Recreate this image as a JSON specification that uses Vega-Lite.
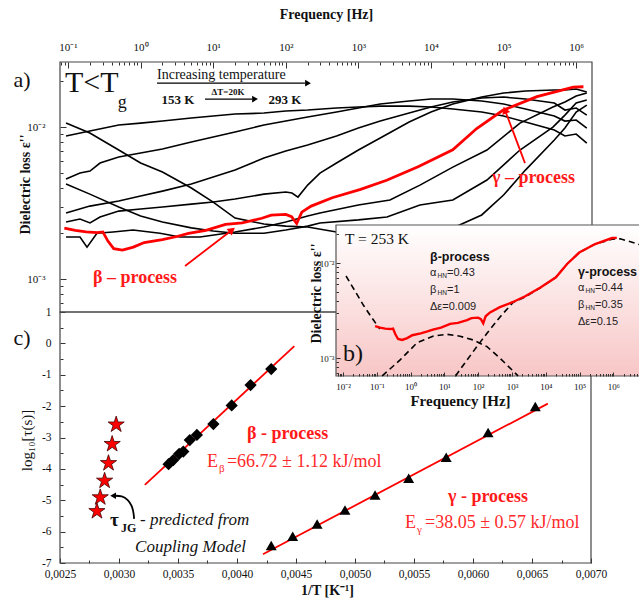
{
  "$schema": "https://vega.github.io/schema/vega-lite/v6.json",
  "width": 639,
  "height": 599,
  "autosize": {"type": "none"},
  "padding": 0,
  "background": "white",
  "config": {
    "view": {"stroke": null},
    "axis": {"grid": false, "domain": false, "labelFont": "Liberation Serif", "titleFont": "Liberation Serif", "labelColor": "#111", "titleColor": "#111", "tickColor": "#333", "labelFlush": false, "labelOverlap": false},
    "text": {"font": "Liberation Serif"}
  },
  "datasets": {
    "red253": [
      {"f": 0.0891, "v": 0.002163}, {"f": 0.1259, "v": 0.002089}, {"f": 0.1778, "v": 0.002042}, {"f": 0.2512, "v": 0.002018},
      {"f": 0.302, "v": 0.002042}, {"f": 0.3548, "v": 0.001778}, {"f": 0.4266, "v": 0.001585}, {"f": 0.5623, "v": 0.001549},
      {"f": 0.7943, "v": 0.001622}, {"f": 1.122, "v": 0.001738}, {"f": 1.995, "v": 0.00182}, {"f": 3.162, "v": 0.001905},
      {"f": 4.571, "v": 0.001995}, {"f": 7.943, "v": 0.002089}, {"f": 14.79, "v": 0.002291}, {"f": 25.12, "v": 0.002344},
      {"f": 46.77, "v": 0.002512}, {"f": 63.1, "v": 0.00263}, {"f": 100, "v": 0.002661}, {"f": 120.2, "v": 0.00257},
      {"f": 141.3, "v": 0.002317}, {"f": 166, "v": 0.002754}, {"f": 223.9, "v": 0.00302}, {"f": 436.5, "v": 0.003428},
      {"f": 1072, "v": 0.00389}, {"f": 2455, "v": 0.004467}, {"f": 6761, "v": 0.005495}, {"f": 19950, "v": 0.007079},
      {"f": 42660, "v": 0.009772}, {"f": 97720, "v": 0.01288}, {"f": 288400, "v": 0.01585}, {"f": 912000, "v": 0.01832},
      {"f": 1259000, "v": 0.01841}
    ]
  },
  "layer": [
    {
      "layer": [
        {
          "data": {"values": [{"f0": 0.0776, "f1": 1652000, "v0": 0.000607, "v1": 0.02679}]},
          "mark": {"type": "rect", "filled": false, "stroke": "#444", "strokeWidth": 1.2},
          "encoding": {
            "x": {"field": "f0", "type": "quantitative", "scale": {"type": "log", "domain": [0.0776, 1652000], "range": [60, 592], "nice": false},
              "axis": {"orient": "top", "offset": -62, "values": [0.1, 1, 10, 100, 1000, 10000, 100000, 1000000], "tickSize": -6, "labelPadding": 16, "labelFontSize": 11,
                "labelExpr": "'10' + ['⁻³','⁻²','⁻¹','⁰','¹','²','³','⁴','⁵','⁶','⁷'][round(log(datum.value)/LN10)+3]",
                "title": "Frequency [Hz]", "titleFontSize": 14, "titleFontWeight": "bold", "titleX": 326, "titleY": -48, "titleAlign": "center", "titleBaseline": "middle", "titleAngle": 0}},
            "x2": {"field": "f1"},
            "y": {"field": "v0", "type": "quantitative", "scale": {"type": "log", "domain": [0.000607, 0.02679], "range": [312, 62], "nice": false},
              "axis": {"orient": "left", "offset": -60, "values": [0.001, 0.01], "tickSize": -6, "labelPadding": 21, "labelFontSize": 11,
                "labelExpr": "'10' + ['⁻⁴','⁻³','⁻²','⁻¹','⁰'][round(log(datum.value)/LN10)+4]",
                "title": "Dielectric loss ε''", "titleFontSize": 14, "titleFontWeight": "bold", "titleX": -35, "titleY": 184, "titleAngle": -90, "titleAlign": "center", "titleBaseline": "middle"}},
            "y2": {"field": "v1"}
          }
        },
        {
          "data": {"values": [
            {"T": "153", "f": 0.094, "v": 0.00873}, {"T": "153", "f": 0.2, "v": 0.00941}, {"T": "153", "f": 0.5, "v": 0.01031}, {"T": "153", "f": 1, "v": 0.01062}, {"T": "153", "f": 2, "v": 0.01095}, {"T": "153", "f": 5, "v": 0.01146}, {"T": "153", "f": 10, "v": 0.01181}, {"T": "153", "f": 20, "v": 0.01218}, {"T": "153", "f": 50, "v": 0.01236}, {"T": "153", "f": 100, "v": 0.01274}, {"T": "153", "f": 200, "v": 0.01294}, {"T": "153", "f": 500, "v": 0.01334}, {"T": "153", "f": 1000, "v": 0.01354}, {"T": "153", "f": 2000, "v": 0.01374}, {"T": "153", "f": 5000, "v": 0.01374}, {"T": "153", "f": 10000, "v": 0.01354}, {"T": "153", "f": 20000, "v": 0.01314}, {"T": "153", "f": 50000, "v": 0.01255}, {"T": "153", "f": 100000, "v": 0.01181}, {"T": "153", "f": 200000, "v": 0.01079}, {"T": "153", "f": 500000, "v": 0.00956}, {"T": "153", "f": 700000, "v": 0.00873}, {"T": "153", "f": 1000000, "v": 0.00899}, {"T": "153", "f": 1400000, "v": 0.00785},
            {"T": "173", "f": 0.094, "v": 0.00455}, {"T": "173", "f": 0.1463, "v": 0.00498}, {"T": "173", "f": 0.201, "v": 0.00513}, {"T": "173", "f": 0.276, "v": 0.0058}, {"T": "173", "f": 0.5, "v": 0.00635}, {"T": "173", "f": 1, "v": 0.00675}, {"T": "173", "f": 2, "v": 0.00717}, {"T": "173", "f": 5, "v": 0.00797}, {"T": "173", "f": 10, "v": 0.00859}, {"T": "173", "f": 20, "v": 0.00927}, {"T": "173", "f": 50, "v": 0.01031}, {"T": "173", "f": 100, "v": 0.01095}, {"T": "173", "f": 200, "v": 0.01164}, {"T": "173", "f": 500, "v": 0.01255}, {"T": "173", "f": 1000, "v": 0.01334}, {"T": "173", "f": 2000, "v": 0.01417}, {"T": "173", "f": 5000, "v": 0.01483}, {"T": "173", "f": 10000, "v": 0.01528}, {"T": "173", "f": 20000, "v": 0.01528}, {"T": "173", "f": 50000, "v": 0.01483}, {"T": "173", "f": 100000, "v": 0.01417}, {"T": "173", "f": 200000, "v": 0.01314}, {"T": "173", "f": 500000, "v": 0.01181}, {"T": "173", "f": 700000, "v": 0.01095}, {"T": "173", "f": 1000000, "v": 0.01112}, {"T": "173", "f": 1400000, "v": 0.00985},
            {"T": "193", "f": 0.094, "v": 0.00272}, {"T": "193", "f": 0.2, "v": 0.00302}, {"T": "193", "f": 0.5, "v": 0.00326}, {"T": "193", "f": 1, "v": 0.00352}, {"T": "193", "f": 2, "v": 0.00379}, {"T": "193", "f": 5, "v": 0.00422}, {"T": "193", "f": 10, "v": 0.00469}, {"T": "193", "f": 20, "v": 0.00521}, {"T": "193", "f": 50, "v": 0.00625}, {"T": "193", "f": 100, "v": 0.00695}, {"T": "193", "f": 200, "v": 0.00761}, {"T": "193", "f": 500, "v": 0.00873}, {"T": "193", "f": 1000, "v": 0.00985}, {"T": "193", "f": 2000, "v": 0.01095}, {"T": "193", "f": 5000, "v": 0.01236}, {"T": "193", "f": 10000, "v": 0.01354}, {"T": "193", "f": 20000, "v": 0.0146}, {"T": "193", "f": 50000, "v": 0.01552}, {"T": "193", "f": 100000, "v": 0.01576}, {"T": "193", "f": 200000, "v": 0.01528}, {"T": "193", "f": 500000, "v": 0.01438}, {"T": "193", "f": 700000, "v": 0.01294}, {"T": "193", "f": 1000000, "v": 0.01334}, {"T": "193", "f": 1400000, "v": 0.01199},
            {"T": "213", "f": 0.094, "v": 0.00237}, {"T": "213", "f": 0.1463, "v": 0.00248}, {"T": "213", "f": 0.201, "v": 0.00234}, {"T": "213", "f": 0.276, "v": 0.00256}, {"T": "213", "f": 0.5, "v": 0.0028}, {"T": "213", "f": 1, "v": 0.00289}, {"T": "213", "f": 2, "v": 0.00298}, {"T": "213", "f": 5, "v": 0.00311}, {"T": "213", "f": 10, "v": 0.00321}, {"T": "213", "f": 20, "v": 0.00336}, {"T": "213", "f": 50, "v": 0.00362}, {"T": "213", "f": 100, "v": 0.00374}, {"T": "213", "f": 121.6, "v": 0.00368}, {"T": "213", "f": 147.2, "v": 0.00346}, {"T": "213", "f": 200, "v": 0.00415}, {"T": "213", "f": 295.8, "v": 0.00498}, {"T": "213", "f": 500, "v": 0.0058}, {"T": "213", "f": 1000, "v": 0.00706}, {"T": "213", "f": 2000, "v": 0.00847}, {"T": "213", "f": 5000, "v": 0.01079}, {"T": "213", "f": 10000, "v": 0.01255}, {"T": "213", "f": 20000, "v": 0.01417}, {"T": "213", "f": 50000, "v": 0.01576}, {"T": "213", "f": 100000, "v": 0.01674}, {"T": "213", "f": 200000, "v": 0.01725}, {"T": "213", "f": 500000, "v": 0.01751}, {"T": "213", "f": 700000, "v": 0.01751}, {"T": "213", "f": 1000000, "v": 0.01778}, {"T": "213", "f": 1400000, "v": 0.01699},
            {"T": "233", "f": 0.094, "v": 0.00189}, {"T": "233", "f": 0.1463, "v": 0.00189}, {"T": "233", "f": 0.1828, "v": 0.00162}, {"T": "233", "f": 0.2506, "v": 0.002}, {"T": "233", "f": 0.4169, "v": 0.00204}, {"T": "233", "f": 0.7857, "v": 0.0021}, {"T": "233", "f": 1.849, "v": 0.002}, {"T": "233", "f": 3.49, "v": 0.00189}, {"T": "233", "f": 6.58, "v": 0.00189}, {"T": "233", "f": 20, "v": 0.00204}, {"T": "233", "f": 50, "v": 0.0022}, {"T": "233", "f": 100, "v": 0.00237}, {"T": "233", "f": 200, "v": 0.0026}, {"T": "233", "f": 295.8, "v": 0.00272}, {"T": "233", "f": 1000, "v": 0.00307}, {"T": "233", "f": 2723, "v": 0.00331}, {"T": "233", "f": 7046, "v": 0.00415}, {"T": "233", "f": 20000, "v": 0.00545}, {"T": "233", "f": 59020, "v": 0.00706}, {"T": "233", "f": 168300, "v": 0.01062}, {"T": "233", "f": 478600, "v": 0.01354}, {"T": "233", "f": 700000, "v": 0.0146}, {"T": "233", "f": 1000000, "v": 0.016}, {"T": "233", "f": 1400000, "v": 0.01674},
            {"T": "273", "f": 0.094, "v": 0.00422}, {"T": "273", "f": 0.2, "v": 0.00362}, {"T": "273", "f": 0.5, "v": 0.00298}, {"T": "273", "f": 1, "v": 0.0026}, {"T": "273", "f": 2, "v": 0.00237}, {"T": "273", "f": 5, "v": 0.00217}, {"T": "273", "f": 10, "v": 0.00207}, {"T": "273", "f": 20, "v": 0.002}, {"T": "273", "f": 50, "v": 0.002}, {"T": "273", "f": 100, "v": 0.0021}, {"T": "273", "f": 200, "v": 0.00223}, {"T": "273", "f": 295.8, "v": 0.00234}, {"T": "273", "f": 1000, "v": 0.00245}, {"T": "273", "f": 2477, "v": 0.00256}, {"T": "273", "f": 7046, "v": 0.00307}, {"T": "273", "f": 20000, "v": 0.00331}, {"T": "273", "f": 59020, "v": 0.00448}, {"T": "273", "f": 168300, "v": 0.00706}, {"T": "273", "f": 478600, "v": 0.01}, {"T": "273", "f": 700000, "v": 0.01199}, {"T": "273", "f": 1000000, "v": 0.01438}, {"T": "273", "f": 1400000, "v": 0.01505},
            {"T": "293", "f": 0.094, "v": 0.01062}, {"T": "293", "f": 0.2, "v": 0.00913}, {"T": "293", "f": 0.5, "v": 0.00706}, {"T": "293", "f": 1, "v": 0.0058}, {"T": "293", "f": 2, "v": 0.00506}, {"T": "293", "f": 5, "v": 0.00397}, {"T": "293", "f": 10, "v": 0.00321}, {"T": "293", "f": 20, "v": 0.00252}, {"T": "293", "f": 50, "v": 0.0023}, {"T": "293", "f": 100, "v": 0.00223}, {"T": "293", "f": 200, "v": 0.0022}, {"T": "293", "f": 500, "v": 0.00204}, {"T": "293", "f": 1000, "v": 0.00192}, {"T": "293", "f": 2000, "v": 0.00186}, {"T": "293", "f": 5000, "v": 0.00186}, {"T": "293", "f": 10000, "v": 0.00195}, {"T": "293", "f": 20000, "v": 0.00217}, {"T": "293", "f": 50000, "v": 0.00264}, {"T": "293", "f": 100000, "v": 0.00357}, {"T": "293", "f": 200000, "v": 0.00521}, {"T": "293", "f": 500000, "v": 0.00821}, {"T": "293", "f": 700000, "v": 0.00985}, {"T": "293", "f": 1000000, "v": 0.01255}, {"T": "293", "f": 1400000, "v": 0.01395}
          ]},
          "mark": {"type": "line", "color": "#000000", "strokeWidth": 1.6},
          "encoding": {
            "x": {"field": "f", "type": "quantitative", "scale": {"type": "log", "domain": [0.0776, 1652000], "range": [60, 592], "nice": false},
              "axis": {"orient": "top", "offset": -62, "values": [0.08, 0.09, 0.2, 0.3, 0.4, 0.5, 0.6, 0.7, 0.8, 0.9, 2, 3, 4, 5, 6, 7, 8, 9, 20, 30, 40, 50, 60, 70, 80, 90, 200, 300, 400, 500, 600, 700, 800, 900, 2000, 3000, 4000, 5000, 6000, 7000, 8000, 9000, 20000, 30000, 40000, 50000, 60000, 70000, 80000, 90000, 200000, 300000, 400000, 500000, 600000, 700000, 800000, 900000], "tickSize": -3, "labels": false, "title": null}},
            "y": {"field": "v", "type": "quantitative", "scale": {"type": "log", "domain": [0.000607, 0.02679], "range": [312, 62], "nice": false},
              "axis": {"orient": "left", "offset": -60, "values": [0.0007, 0.0008, 0.0009, 0.002, 0.003, 0.004, 0.005, 0.006, 0.007, 0.008, 0.009, 0.02], "tickSize": -3, "labels": false, "title": null}},
            "detail": {"field": "T", "type": "nominal"}
          }
        },
        {
          "data": {"name": "red253"},
          "mark": {"type": "line", "color": "#ff0000", "strokeWidth": 2.8},
          "encoding": {
            "x": {"field": "f", "type": "quantitative", "scale": {"type": "log", "domain": [0.0776, 1652000], "range": [60, 592], "nice": false}, "axis": null},
            "y": {"field": "v", "type": "quantitative", "scale": {"type": "log", "domain": [0.000607, 0.02679], "range": [312, 62], "nice": false}, "axis": null}
          }
        },
        {
          "data": {"values": [{"id": "u", "f": 1.683, "v": 0.01945}, {"id": "u", "f": 183.7, "v": 0.01945}, {"id": "s", "f": 7.71, "v": 0.01528}, {"id": "s", "f": 34.2, "v": 0.01528}]},
          "mark": {"type": "line", "color": "#000000", "strokeWidth": 1.3},
          "encoding": {
            "x": {"field": "f", "type": "quantitative", "axis": null},
            "y": {"field": "v", "type": "quantitative", "axis": null},
            "detail": {"field": "id", "type": "nominal"}
          }
        },
        {
          "data": {"values": [{"f": 202.3, "v": 0.01945}, {"f": 37.7, "v": 0.01528}]},
          "mark": {"type": "point", "shape": "triangle-right", "filled": true, "color": "#000000", "size": 45, "opacity": 1},
          "encoding": {
            "x": {"field": "f", "type": "quantitative", "axis": null},
            "y": {"field": "v", "type": "quantitative", "axis": null}
          }
        },
        {
          "data": {"values": [{"id": "b", "f": 4.093, "v": 0.001219}, {"id": "b", "f": 18.16, "v": 0.0021}, {"id": "g", "f": 104400, "v": 0.01294}, {"id": "g", "f": 197200, "v": 0.005794}]},
          "mark": {"type": "line", "color": "#ff0000", "strokeWidth": 1.8},
          "encoding": {
            "x": {"field": "f", "type": "quantitative", "axis": null},
            "y": {"field": "v", "type": "quantitative", "axis": null},
            "detail": {"field": "id", "type": "nominal"}
          }
        },
        {
          "data": {"values": [{"f": 18.16, "v": 0.0021}]},
          "mark": {"type": "point", "shape": "triangle-up", "filled": true, "color": "#ff0000", "size": 70, "angle": 52, "opacity": 1},
          "encoding": {"x": {"field": "f", "type": "quantitative", "axis": null}, "y": {"field": "v", "type": "quantitative", "axis": null}}
        },
        {
          "data": {"values": [{"f": 104400, "v": 0.01294}]},
          "mark": {"type": "point", "shape": "triangle-up", "filled": true, "color": "#ff0000", "size": 70, "angle": -21, "opacity": 1},
          "encoding": {"x": {"field": "f", "type": "quantitative", "axis": null}, "y": {"field": "v", "type": "quantitative", "axis": null}}
        },
        {
          "data": {"values": [{"f": 0.02323, "v": 0.02037, "t": "a)"}]},
          "mark": {"type": "text", "fontSize": 22, "align": "center", "baseline": "middle", "color": "#111"},
          "encoding": {"x": {"field": "f", "type": "quantitative", "axis": null}, "y": {"field": "v", "type": "quantitative", "axis": null}, "text": {"field": "t"}}
        },
        {
          "data": {"values": [{"f": 0.0909, "v": 0.01945, "t": "T<T"}]},
          "mark": {"type": "text", "fontSize": 30, "align": "left", "baseline": "middle", "color": "#111"},
          "encoding": {"x": {"field": "f", "type": "quantitative", "axis": null}, "y": {"field": "v", "type": "quantitative", "axis": null}, "text": {"field": "t"}}
        },
        {
          "data": {"values": [{"f": 0.56, "v": 0.01445, "t": "g"}]},
          "mark": {"type": "text", "fontSize": 18, "align": "center", "baseline": "middle", "color": "#111"},
          "encoding": {"x": {"field": "f", "type": "quantitative", "axis": null}, "y": {"field": "v", "type": "quantitative", "axis": null}, "text": {"field": "t"}}
        },
        {
          "data": {"values": [{"f": 1.683, "v": 0.02198, "t": "Increasing temperature"}]},
          "mark": {"type": "text", "fontSize": 14, "align": "left", "baseline": "middle", "color": "#111"},
          "encoding": {"x": {"field": "f", "type": "quantitative", "axis": null}, "y": {"field": "v", "type": "quantitative", "axis": null}, "text": {"field": "t"}}
        },
        {
          "data": {"values": [{"f": 3.27, "v": 0.01507, "t": "153 K"}, {"f": 97.5, "v": 0.01507, "t": "293 K"}]},
          "mark": {"type": "text", "fontSize": 13, "fontWeight": "bold", "align": "center", "baseline": "middle", "color": "#111"},
          "encoding": {"x": {"field": "f", "type": "quantitative", "axis": null}, "y": {"field": "v", "type": "quantitative", "axis": null}, "text": {"field": "t"}}
        },
        {
          "data": {"values": [{"f": 16, "v": 0.01698, "t": "ΔT=20K"}]},
          "mark": {"type": "text", "fontSize": 9, "fontWeight": "bold", "align": "center", "baseline": "middle", "color": "#111"},
          "encoding": {"x": {"field": "f", "type": "quantitative", "axis": null}, "y": {"field": "v", "type": "quantitative", "axis": null}, "text": {"field": "t"}}
        },
        {
          "data": {"values": [{"f": 0.2208, "v": 0.001016, "t": "β – process"}, {"f": 69180, "v": 0.004613, "t": "γ – process"}]},
          "mark": {"type": "text", "fontSize": 18, "fontWeight": "bold", "align": "left", "baseline": "middle", "color": "#ff1a1a"},
          "encoding": {"x": {"field": "f", "type": "quantitative", "axis": null}, "y": {"field": "v", "type": "quantitative", "axis": null}, "text": {"field": "t"}}
        }
      ],
      "resolve": {"axis": {"x": "independent", "y": "independent"}}
    },
    {
      "layer": [
        {
          "data": {"values": [{"x0": 0.0025, "x1": 0.007, "y0": -7, "y1": 1}]},
          "mark": {"type": "rect", "filled": false, "stroke": "#444", "strokeWidth": 1.2},
          "encoding": {
            "x": {"field": "x0", "type": "quantitative", "scale": {"domain": [0.0025, 0.007], "range": [60, 591], "nice": false, "zero": false},
              "axis": {"orient": "bottom", "offset": -36, "values": [0.0025, 0.003, 0.0035, 0.004, 0.0045, 0.005, 0.0055, 0.006, 0.0065, 0.007], "tickSize": -5, "labelPadding": 10, "labelFontSize": 11.5,
                "labelExpr": "replace(format(datum.value, '.4f'), '.', ',')",
                "title": "1/T [K⁻¹]", "titleFontSize": 14, "titleFontWeight": "bold", "titleX": 327, "titleY": 27, "titleAlign": "center", "titleBaseline": "middle"}},
            "x2": {"field": "x1"},
            "y": {"field": "y0", "type": "quantitative", "scale": {"domain": [-7, 1], "range": [563, 312], "nice": false, "zero": false},
              "axis": {"orient": "left", "offset": -60, "values": [-7, -6, -5, -4, -3, -2, -1, 0, 1], "tickSize": -5, "labelPadding": 14, "labelFontSize": 11.5,
                "labelExpr": "'' + datum.value",
                "title": "log₁₀[τ(s)]", "titleFontSize": 15, "titleFontWeight": "normal", "titleX": -34, "titleY": 440, "titleAngle": -90, "titleAlign": "center", "titleBaseline": "middle"}},
            "y2": {"field": "y1"}
          }
        },
        {
          "data": {"values": [{"p": "beta", "x": 0.003219, "y": -4.51}, {"p": "beta", "x": 0.004486, "y": -0.085}, {"p": "gamma", "x": 0.00422, "y": -6.72}, {"p": "gamma", "x": 0.006634, "y": -1.92}]},
          "mark": {"type": "line", "color": "#ff0000", "strokeWidth": 1.8},
          "encoding": {
            "x": {"field": "x", "type": "quantitative", "scale": {"domain": [0.0025, 0.007], "range": [60, 591], "nice": false, "zero": false},
              "axis": {"orient": "bottom", "offset": -36, "values": [0.00275, 0.00325, 0.00375, 0.00425, 0.00475, 0.00525, 0.00575, 0.00625, 0.00675], "tickSize": -3, "labels": false, "title": null}},
            "y": {"field": "y", "type": "quantitative", "scale": {"domain": [-7, 1], "range": [563, 312], "nice": false, "zero": false},
              "axis": {"orient": "left", "offset": -60, "values": [-6.5, -5.5, -4.5, -3.5, -2.5, -1.5, -0.5, 0.5], "tickSize": -3, "labels": false, "title": null}},
            "detail": {"field": "p", "type": "nominal"}
          }
        },
        {
          "data": {"values": [{"x": 0.00342, "y": -3.85}, {"x": 0.00346, "y": -3.72}, {"x": 0.00351, "y": -3.52}, {"x": 0.003545, "y": -3.45}, {"x": 0.0036, "y": -3.08}, {"x": 0.00366, "y": -2.92}, {"x": 0.0038, "y": -2.57}, {"x": 0.003955, "y": -1.98}, {"x": 0.004115, "y": -1.33}, {"x": 0.00429, "y": -0.82}]},
          "mark": {"type": "point", "shape": "diamond", "filled": true, "color": "#000000", "size": 150, "opacity": 1},
          "encoding": {"x": {"field": "x", "type": "quantitative", "axis": null}, "y": {"field": "y", "type": "quantitative", "axis": null}}
        },
        {
          "data": {"values": [{"x": 0.00429, "y": -6.44}, {"x": 0.004472, "y": -6.15}, {"x": 0.004679, "y": -5.76}, {"x": 0.004915, "y": -5.31}, {"x": 0.00517, "y": -4.83}, {"x": 0.005455, "y": -4.3}, {"x": 0.005773, "y": -3.63}, {"x": 0.006128, "y": -2.84}, {"x": 0.006528, "y": -2.01}]},
          "mark": {"type": "point", "shape": "triangle-up", "filled": true, "color": "#000000", "size": 120, "opacity": 1},
          "encoding": {"x": {"field": "x", "type": "quantitative", "axis": null}, "y": {"field": "y", "type": "quantitative", "axis": null}}
        },
        {
          "data": {"values": [{"x": 0.002976, "y": -2.59}, {"x": 0.002942, "y": -3.21}, {"x": 0.002911, "y": -3.82}, {"x": 0.002878, "y": -4.38}, {"x": 0.002841, "y": -4.91}, {"x": 0.002813, "y": -5.35}]},
          "mark": {"type": "point", "shape": "M0,-1L0.2245,-0.309L0.951,-0.309L0.363,0.118L0.588,0.809L0,0.382L-0.588,0.809L-0.363,0.118L-0.951,-0.309L-0.2245,-0.309Z", "filled": true, "color": "#ff0000", "stroke": "#400000", "strokeWidth": 0.8, "size": 290, "opacity": 1},
          "encoding": {"x": {"field": "x", "type": "quantitative", "axis": null}, "y": {"field": "y", "type": "quantitative", "axis": null}}
        },
        {
          "data": {"values": [{"i": 1, "x": 0.002958, "y": -4.856}, {"i": 2, "x": 0.003026, "y": -4.856}, {"i": 3, "x": 0.003077, "y": -4.984}, {"i": 4, "x": 0.003111, "y": -5.176}, {"i": 5, "x": 0.003125, "y": -5.432}, {"i": 6, "x": 0.003128, "y": -5.592}]},
          "mark": {"type": "line", "color": "#000000", "strokeWidth": 1.8, "interpolate": "basis"},
          "encoding": {"x": {"field": "x", "type": "quantitative", "axis": null}, "y": {"field": "y", "type": "quantitative", "axis": null}, "order": {"field": "i", "type": "quantitative"}}
        },
        {
          "data": {"values": [{"x": 0.00295, "y": -4.856}]},
          "mark": {"type": "point", "shape": "triangle-left", "filled": true, "color": "#000000", "size": 45, "opacity": 1},
          "encoding": {"x": {"field": "x", "type": "quantitative", "axis": null}, "y": {"field": "y", "type": "quantitative", "axis": null}}
        },
        {
          "data": {"values": [{"x": 0.002178, "y": 0.171, "t": "c)"}]},
          "mark": {"type": "text", "fontSize": 22, "align": "center", "baseline": "middle", "color": "#111"},
          "encoding": {"x": {"field": "x", "type": "quantitative", "axis": null}, "y": {"field": "y", "type": "quantitative", "axis": null}, "text": {"field": "t"}}
        },
        {
          "data": {"values": [{"x": 0.004085, "y": -2.888, "t": "β - process"}, {"x": 0.005788, "y": -4.896, "t": "γ - process"}]},
          "mark": {"type": "text", "fontSize": 18, "fontWeight": "bold", "align": "left", "baseline": "middle", "color": "#ff1a1a"},
          "encoding": {"x": {"field": "x", "type": "quantitative", "axis": null}, "y": {"field": "y", "type": "quantitative", "axis": null}, "text": {"field": "t"}}
        },
        {
          "data": {"values": [{"x": 0.003746, "y": -3.781, "t": "E"}, {"x": 0.003915, "y": -3.781, "t": "=66.72 ± 1.12 kJ/mol"}, {"x": 0.005424, "y": -5.725, "t": "E"}, {"x": 0.005593, "y": -5.725, "t": "=38.05 ± 0.57 kJ/mol"}]},
          "mark": {"type": "text", "fontSize": 18, "align": "left", "baseline": "middle", "color": "#ff2a2a"},
          "encoding": {"x": {"field": "x", "type": "quantitative", "axis": null}, "y": {"field": "y", "type": "quantitative", "axis": null}, "text": {"field": "t"}}
        },
        {
          "data": {"values": [{"x": 0.003847, "y": -4.004, "t": "β"}, {"x": 0.005525, "y": -5.948, "t": "γ"}]},
          "mark": {"type": "text", "fontSize": 11, "align": "left", "baseline": "middle", "color": "#ff2a2a"},
          "encoding": {"x": {"field": "x", "type": "quantitative", "axis": null}, "y": {"field": "y", "type": "quantitative", "axis": null}, "text": {"field": "t"}}
        },
        {
          "data": {"values": [{"x": 0.002924, "y": -5.63, "t": "τ"}]},
          "mark": {"type": "text", "fontSize": 19, "fontWeight": "bold", "align": "left", "baseline": "middle", "color": "#111"},
          "encoding": {"x": {"field": "x", "type": "quantitative", "axis": null}, "y": {"field": "y", "type": "quantitative", "axis": null}, "text": {"field": "t"}}
        },
        {
          "data": {"values": [{"x": 0.003017, "y": -5.885, "t": "JG"}]},
          "mark": {"type": "text", "fontSize": 12, "fontWeight": "bold", "align": "left", "baseline": "middle", "color": "#111"},
          "encoding": {"x": {"field": "x", "type": "quantitative", "axis": null}, "y": {"field": "y", "type": "quantitative", "axis": null}, "text": {"field": "t"}}
        },
        {
          "data": {"values": [{"x": 0.003178, "y": -5.63, "t": "- predicted from"}, {"x": 0.003136, "y": -6.49, "t": "Coupling Model"}]},
          "mark": {"type": "text", "fontSize": 17, "fontStyle": "italic", "align": "left", "baseline": "middle", "color": "#111"},
          "encoding": {"x": {"field": "x", "type": "quantitative", "axis": null}, "y": {"field": "y", "type": "quantitative", "axis": null}, "text": {"field": "t"}}
        }
      ],
      "resolve": {"axis": {"x": "independent", "y": "independent"}}
    },
    {
      "layer": [
        {
          "data": {"values": [{"f0": 0.00621, "f1": 23900000, "v0": 0.000647, "v1": 0.02512}]},
          "mark": {"type": "rect", "stroke": "#555", "strokeWidth": 1.2,
            "fill": {"gradient": "linear", "x1": 0, "y1": 0, "x2": 0, "y2": 1, "stops": [{"offset": 0, "color": "#ffffff"}, {"offset": 1, "color": "#f8c6c6"}]}},
          "encoding": {
            "x": {"field": "f0", "type": "quantitative", "scale": {"type": "log", "domain": [0.00621, 23900000], "range": [336, 660], "nice": false},
              "axis": {"orient": "bottom", "offset": -223, "zindex": 1, "values": [0.01, 0.1, 1, 10, 100, 1000, 10000, 100000, 1000000], "tickSize": -4, "labelPadding": 10, "labelFontSize": 9,
                "labelExpr": "'10' + ['⁻³','⁻²','⁻¹','⁰','¹','²','³','⁴','⁵','⁶','⁷'][round(log(datum.value)/LN10)+3]",
                "title": "Frequency [Hz]", "titleFontSize": 15, "titleFontWeight": "bold", "titleX": 460, "titleY": 24, "titleAlign": "center", "titleBaseline": "middle"}},
            "x2": {"field": "f1"},
            "y": {"field": "v0", "type": "quantitative", "scale": {"type": "log", "domain": [0.000647, 0.02512], "range": [376, 225], "nice": false},
              "axis": {"orient": "left", "offset": -336, "zindex": 1, "values": [0.001, 0.01], "tickSize": -4, "labelPadding": 6, "labelFontSize": 9,
                "labelExpr": "'10' + ['⁻⁴','⁻³','⁻²','⁻¹','⁰'][round(log(datum.value)/LN10)+4]",
                "title": "Dielectric loss ε''", "titleFontSize": 14, "titleFontWeight": "bold", "titleX": -20, "titleY": 293, "titleAngle": -90, "titleAlign": "center", "titleBaseline": "middle"}},
            "y2": {"field": "v1"}
          }
        },
        {
          "data": {"values": [
            {"c": "cond", "f": 0.0123, "v": 0.007295}, {"c": "cond", "f": 0.02265, "v": 0.00507}, {"c": "cond", "f": 0.0417, "v": 0.003524}, {"c": "cond", "f": 0.0724, "v": 0.002636}, {"c": "cond", "f": 0.123, "v": 0.002018},
            {"c": "beta", "f": 0.1445, "v": 0.000648}, {"c": "beta", "f": 0.4898, "v": 0.000955}, {"c": "beta", "f": 1.549, "v": 0.001445}, {"c": "beta", "f": 4.571, "v": 0.001698}, {"c": "beta", "f": 12.02, "v": 0.001778}, {"c": "beta", "f": 28.84, "v": 0.001698}, {"c": "beta", "f": 70.79, "v": 0.001549}, {"c": "beta", "f": 182, "v": 0.001318}, {"c": "beta", "f": 436.5, "v": 0.001}, {"c": "beta", "f": 1514, "v": 0.000648},
            {"c": "gamma", "f": 21.38, "v": 0.000648}, {"c": "gamma", "f": 46.77, "v": 0.000955}, {"c": "gamma", "f": 91.2, "v": 0.001318}, {"c": "gamma", "f": 182, "v": 0.00182}, {"c": "gamma", "f": 436.5, "v": 0.002692}, {"c": "gamma", "f": 1072, "v": 0.00385}, {"c": "gamma", "f": 2455, "v": 0.0044}, {"c": "gamma", "f": 6761, "v": 0.00545}, {"c": "gamma", "f": 19950, "v": 0.00708}, {"c": "gamma", "f": 42660, "v": 0.00977}, {"c": "gamma", "f": 97720, "v": 0.01288}, {"c": "gamma", "f": 288400, "v": 0.01585}, {"c": "gamma", "f": 912000, "v": 0.01778}, {"c": "gamma", "f": 1585000, "v": 0.01799}, {"c": "gamma", "f": 4365000, "v": 0.01622}, {"c": "gamma", "f": 12590000, "v": 0.01413}
          ]},
          "mark": {"type": "line", "color": "#000000", "strokeWidth": 1.6, "strokeDash": [6, 4]},
          "encoding": {
            "x": {"field": "f", "type": "quantitative", "scale": {"type": "log", "domain": [0.00621, 23900000], "range": [336, 660], "nice": false},
              "axis": {"orient": "bottom", "offset": -223, "zindex": 1, "values": [0.007, 0.008, 0.009, 0.02, 0.03, 0.04, 0.05, 0.06, 0.07, 0.08, 0.09, 0.2, 0.3, 0.4, 0.5, 0.6, 0.7, 0.8, 0.9, 2, 3, 4, 5, 6, 7, 8, 9, 20, 30, 40, 50, 60, 70, 80, 90, 200, 300, 400, 500, 600, 700, 800, 900, 2000, 3000, 4000, 5000, 6000, 7000, 8000, 9000, 20000, 30000, 40000, 50000, 60000, 70000, 80000, 90000, 200000, 300000, 400000, 500000, 600000, 700000, 800000, 900000, 2000000, 3000000, 4000000, 5000000], "tickSize": -2.5, "labels": false, "title": null}},
            "y": {"field": "v", "type": "quantitative", "scale": {"type": "log", "domain": [0.000647, 0.02512], "range": [376, 225], "nice": false},
              "axis": {"orient": "left", "offset": -336, "zindex": 1, "values": [0.0007, 0.0008, 0.0009, 0.002, 0.003, 0.004, 0.005, 0.006, 0.007, 0.008, 0.009, 0.02], "tickSize": -2.5, "labels": false, "title": null}},
            "detail": {"field": "c", "type": "nominal"}
          }
        },
        {
          "data": {"name": "red253"},
          "mark": {"type": "line", "color": "#ff0000", "strokeWidth": 2.4},
          "encoding": {
            "x": {"field": "f", "type": "quantitative", "axis": null},
            "y": {"field": "v", "type": "quantitative", "axis": null}
          }
        },
        {
          "data": {"values": [{"f": 0.01146, "v": 0.0179, "t": "T = 253 K"}]},
          "mark": {"type": "text", "fontSize": 15.5, "align": "left", "baseline": "middle", "color": "#111"},
          "encoding": {"x": {"field": "f", "type": "quantitative", "axis": null}, "y": {"field": "v", "type": "quantitative", "axis": null}, "text": {"field": "t"}}
        },
        {
          "data": {"values": [{"f": 0.01, "v": 0.001102, "t": "b)"}]},
          "mark": {"type": "text", "fontSize": 24, "align": "left", "baseline": "middle", "color": "#111"},
          "encoding": {"x": {"field": "f", "type": "quantitative", "axis": null}, "y": {"field": "v", "type": "quantitative", "axis": null}, "text": {"field": "t"}}
        },
        {
          "data": {"values": [{"f": 3.75, "v": 0.01156, "t": "β-process"}, {"f": 89740, "v": 0.008035, "t": "γ-process"}]},
          "mark": {"type": "text", "font": "Liberation Sans", "fontSize": 12.5, "fontWeight": "bold", "align": "left", "baseline": "middle", "color": "#111"},
          "encoding": {"x": {"field": "f", "type": "quantitative", "axis": null}, "y": {"field": "v", "type": "quantitative", "axis": null}, "text": {"field": "t"}}
        },
        {
          "data": {"values": [
            {"f": 3.75, "v": 0.007852, "t": "α"}, {"f": 11.9, "v": 0.007852, "t": "=0.43"},
            {"f": 3.75, "v": 0.0052, "t": "β"}, {"f": 11.9, "v": 0.0052, "t": "=1"},
            {"f": 3.75, "v": 0.003443, "t": "Δε=0.009"},
            {"f": 89740, "v": 0.005458, "t": "α"}, {"f": 285800, "v": 0.005458, "t": "=0.44"},
            {"f": 89740, "v": 0.003614, "t": "β"}, {"f": 285800, "v": 0.003614, "t": "=0.35"},
            {"f": 89740, "v": 0.002393, "t": "Δε=0.15"}
          ]},
          "mark": {"type": "text", "font": "Liberation Sans", "fontSize": 11, "align": "left", "baseline": "middle", "color": "#222"},
          "encoding": {"x": {"field": "f", "type": "quantitative", "axis": null}, "y": {"field": "v", "type": "quantitative", "axis": null}, "text": {"field": "t"}}
        },
        {
          "data": {"values": [{"f": 6.25, "v": 0.007296, "t": "HN"}, {"f": 6.25, "v": 0.00483, "t": "HN"}, {"f": 149600, "v": 0.00507, "t": "HN"}, {"f": 149600, "v": 0.003357, "t": "HN"}]},
          "mark": {"type": "text", "font": "Liberation Sans", "fontSize": 6.5, "align": "left", "baseline": "middle", "color": "#222"},
          "encoding": {"x": {"field": "f", "type": "quantitative", "axis": null}, "y": {"field": "v", "type": "quantitative", "axis": null}, "text": {"field": "t"}}
        }
      ],
      "resolve": {"axis": {"x": "independent", "y": "independent"}}
    }
  ],
  "resolve": {"scale": {"x": "independent", "y": "independent"}, "axis": {"x": "independent", "y": "independent"}}
}
